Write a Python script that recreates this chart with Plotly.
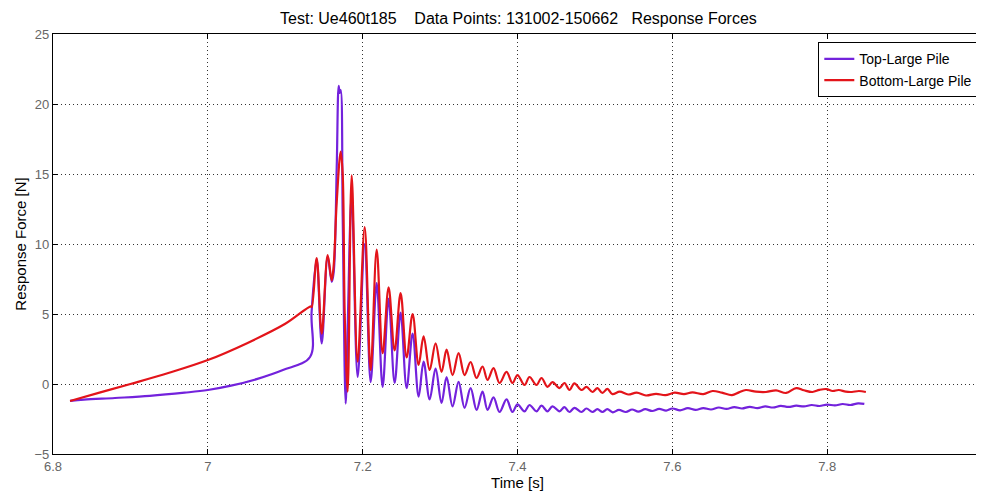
import plotly.graph_objects as go

# Top-Large Pile (purple)
top_t = [6.822, 6.84, 6.88, 6.925, 6.97, 7.0, 7.03, 7.063, 7.097, 7.132,
         7.134, 7.1406, 7.1471, 7.1548, 7.160, 7.1626, 7.1665, 7.169, 7.1703, 7.1716,
         7.1742, 7.178, 7.1806, 7.1858, 7.1935, 7.2026, 7.2103, 7.2181, 7.2258, 7.2335,
         7.2413, 7.249, 7.2568, 7.2645, 7.2723, 7.2787, 7.2865, 7.2942, 7.3019, 7.3084,
         7.3161, 7.3239, 7.3316, 7.3394, 7.3471, 7.3548, 7.3613, 7.369, 7.3768, 7.3858,
         7.3935, 7.40, 7.409, 7.4155, 7.4245, 7.431, 7.4387, 7.4452, 7.4542, 7.4606,
         7.4671, 7.4735, 7.4826, 7.489, 7.4968, 7.5032, 7.5097, 7.516, 7.523, 7.531,
         7.54, 7.548, 7.556, 7.565, 7.574, 7.583, 7.592, 7.60, 7.61, 7.62,
         7.63, 7.64, 7.65, 7.66, 7.67, 7.68, 7.69, 7.70, 7.71, 7.72,
         7.73, 7.74, 7.75, 7.76, 7.77, 7.78, 7.79, 7.80, 7.81, 7.82,
         7.83, 7.84, 7.848]
top_f = [-1.21, -1.12, -1.0, -0.85, -0.62, -0.43, -0.12, 0.35, 1.0, 1.93,
         5.1, 8.9, 2.9, 9.1, 7.3, 8.0, 15.5, 21.3, 20.8, 21.0,
         12.0, -1.4, 4.0, 13.5, 0.5, 10.0, 0.14, 7.2, -0.2, 6.1,
         0.07, 5.1, -0.3, 3.6, -0.9, 1.6, -1.1, 1.1, -1.35, 0.5,
         -1.6, 0.15, -1.7, -0.3, -1.85, -0.55, -1.85, -0.95, -2.0, -1.1,
         -2.0, -1.45, -1.95, -1.5, -1.95, -1.55, -1.95, -1.6, -1.95, -1.65,
         -2.0, -1.7, -2.0, -1.75, -2.0, -1.8, -2.0, -1.8, -2.02, -1.85,
         -2.0, -1.82, -1.97, -1.8, -1.93, -1.78, -1.9, -1.75, -1.88, -1.73,
         -1.85, -1.72, -1.82, -1.68, -1.78, -1.65, -1.75, -1.63, -1.72, -1.6,
         -1.68, -1.56, -1.64, -1.55, -1.6, -1.5, -1.57, -1.47, -1.53, -1.43,
         -1.5, -1.38, -1.42]

# Bottom-Large Pile (red)
bot_t = [6.822, 6.86, 6.90, 6.95, 7.0, 7.05, 7.10, 7.133,
         7.1342, 7.1406, 7.1471, 7.1548, 7.160, 7.1626, 7.1665, 7.1716, 7.1742, 7.1768,
         7.1806, 7.1858, 7.1935, 7.2026, 7.2103, 7.2181, 7.2258, 7.2335, 7.2413, 7.249,
         7.2568, 7.2645, 7.2723, 7.2787, 7.2865, 7.2942, 7.3019, 7.3084, 7.3161, 7.3239,
         7.3316, 7.3394, 7.3471, 7.3548, 7.3613, 7.369, 7.3768, 7.3858, 7.3935, 7.40,
         7.409, 7.4155, 7.4245, 7.431, 7.4387, 7.4452, 7.4542, 7.4606, 7.4671, 7.4735,
         7.4826, 7.489, 7.4968, 7.5032, 7.5097, 7.5161, 7.5226, 7.532, 7.543, 7.554,
         7.566, 7.579, 7.591, 7.603, 7.615, 7.626, 7.64, 7.652, 7.664, 7.677,
         7.686, 7.695, 7.708, 7.721, 7.734, 7.747, 7.76, 7.77, 7.781, 7.79,
         7.799, 7.807, 7.815, 7.824, 7.832, 7.841, 7.85]
bot_f = [-1.21, -0.62, 0.0, 0.8, 1.71, 2.9, 4.3, 5.55,
         5.5, 9.0, 3.6, 9.2, 7.4, 8.5, 13.0, 16.6, 15.0, 5.0,
         -0.55, 14.9, 1.6, 11.2, 1.0, 9.6, 2.2, 6.9, 2.4, 6.5,
         1.9, 5.0, 1.36, 3.4, 1.0, 2.9, 0.86, 2.45, 0.64, 2.2,
         0.64, 1.57, 0.43, 1.25, 0.29, 1.14, 0.07, 0.86, 0.07, 0.64,
         -0.07, 0.5, -0.07, 0.43, -0.2, 0.14, -0.29, 0.07, -0.43, 0.05,
         -0.43, -0.2, -0.57, -0.29, -0.64, -0.35, -0.72, -0.55, -0.75, -0.62,
         -0.82, -0.7, -0.8, -0.62, -0.72, -0.6, -0.72, -0.5, -0.62, -0.8,
         -0.6, -0.43, -0.55, -0.57, -0.45, -0.64, -0.29, -0.45, -0.57, -0.42,
         -0.36, -0.5, -0.43, -0.55, -0.57, -0.5, -0.57]

FONT = "Liberation Sans, Arial, sans-serif"

fig = go.Figure()
fig.add_trace(go.Scatter(x=top_t, y=top_f, mode="lines", name="Top-Large Pile",
                         line=dict(color="#7322dc", width=2.2, shape="spline", smoothing=1.0)))
fig.add_trace(go.Scatter(x=bot_t, y=bot_f, mode="lines", name="Bottom-Large Pile",
                         line=dict(color="#e3141a", width=2.2, shape="spline", smoothing=1.0)))

axis_common = dict(showline=True, linecolor="black", linewidth=1.3, mirror="ticks",
                   ticks="inside", ticklen=5, tickcolor="black", tickwidth=1.3,
                   showgrid=True, gridcolor="#333", griddash="1px,3px", gridwidth=1,
                   zeroline=False, tickfont=dict(family=FONT, size=13, color="#666"))

fig.update_layout(
    width=976, height=488,
    margin=dict(l=45, r=2, t=26, b=42),
    paper_bgcolor="white", plot_bgcolor="white",
    title=dict(text="Test: Ue460t185&nbsp;&nbsp;&nbsp;&nbsp;Data Points: 131002-150662&nbsp;&nbsp;&nbsp;Response Forces",
               x=0.523, xanchor="center", y=0.978, yanchor="middle",
               font=dict(family=FONT, size=16, color="black")),
    xaxis=dict(range=[6.8, 8.0], dtick=0.2, tick0=6.8,
               title=dict(text="Time [s]", standoff=2,
                          font=dict(family=FONT, size=15, color="black")),
               **axis_common),
    yaxis=dict(range=[-5, 25], dtick=5, tick0=-5,
               title=dict(text="Response Force [N]", standoff=4,
                          font=dict(family=FONT, size=15, color="black")),
               **axis_common),
    legend=dict(x=0.9957, xanchor="right", y=0.981, yanchor="top",
                bgcolor="white", bordercolor="black", borderwidth=1.3,
                font=dict(family=FONT, size=14, color="black"),
                tracegroupgap=0, itemwidth=30),
    showlegend=True,
)

fig.write_html("out.html")
